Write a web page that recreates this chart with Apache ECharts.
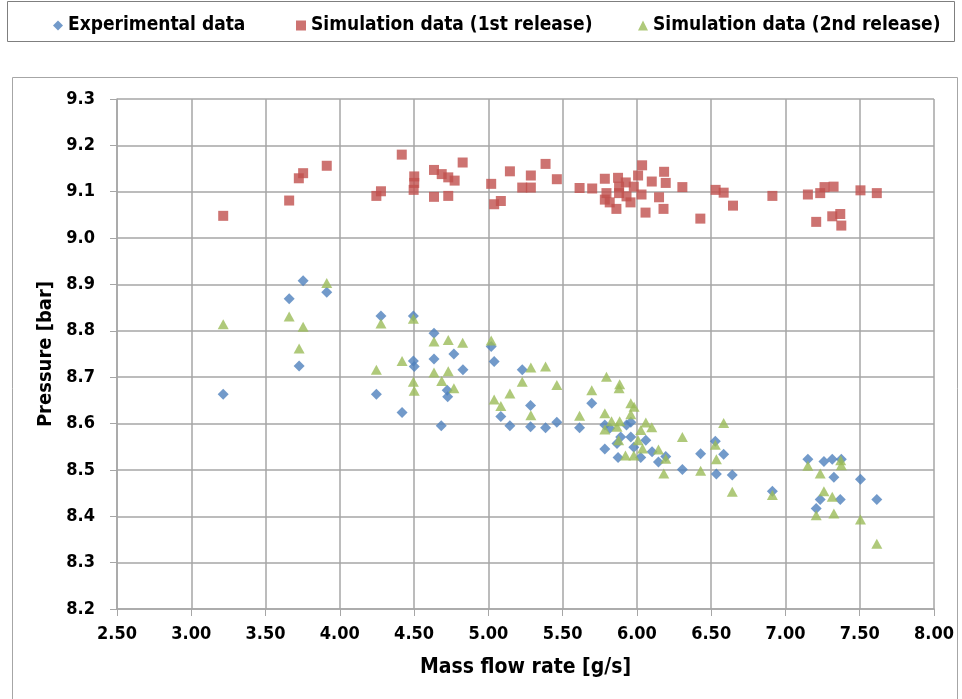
<!DOCTYPE html>
<html lang="en">
<head>
    <meta charset="UTF-8">
    <title>Pressure vs mass flow rate</title>
    <script src="https://cdn.jsdelivr.net/npm/echarts@6/dist/echarts.min.js"></script>
    <style>
        html, body { margin: 0; padding: 0; background: #fff; }
        #main { width: 962px; height: 699px; }
    </style>
</head>
<body>
    <div id="main"></div>
    <script>
        // values
        var expX = [3.215, 3.659, 3.726, 3.753, 3.912, 4.246, 4.277, 4.419, 4.495, 4.495, 4.501, 4.634, 4.634, 4.683, 4.723, 4.726, 4.768, 4.829,
            5.019, 5.039, 5.084, 5.145, 5.228, 5.284, 5.284, 5.385, 5.461, 5.614, 5.696, 5.784, 5.784, 5.817, 5.866, 5.873, 5.891, 5.930, 5.959, 5.959,
            5.979, 6.026, 6.060, 6.102, 6.145, 6.194, 6.306, 6.429, 6.528, 6.535, 6.584, 6.642, 6.912, 7.151, 7.207, 7.234, 7.259, 7.315, 7.326,
            7.369, 7.376, 7.505, 7.615];
        var expY = [8.663, 8.869, 8.724, 8.908, 8.883, 8.663, 8.832, 8.624, 8.832, 8.735, 8.723, 8.795, 8.739, 8.595, 8.672, 8.658, 8.750, 8.716,
            8.766, 8.734, 8.615, 8.595, 8.716, 8.639, 8.593, 8.591, 8.603, 8.591, 8.644, 8.597, 8.545, 8.590, 8.557, 8.527, 8.571, 8.597, 8.603, 8.571,
            8.549, 8.527, 8.564, 8.539, 8.517, 8.529, 8.501, 8.535, 8.562, 8.491, 8.534, 8.489, 8.454, 8.523, 8.417, 8.436, 8.518, 8.523, 8.484,
            8.436, 8.523, 8.480, 8.436];

        var sim1X = [3.215, 3.659, 3.724, 3.753, 3.912, 4.246, 4.277, 4.417, 4.501, 4.501, 4.497, 4.634, 4.686, 4.730, 4.773, 4.827, 4.634, 4.730,
            5.019, 5.039, 5.084, 5.145, 5.228, 5.286, 5.286, 5.385, 5.461, 5.614, 5.699, 5.784, 5.795, 5.784, 5.817, 5.862, 5.873, 5.880, 5.880,
            5.925, 5.930, 5.957, 5.979, 6.008, 6.031, 6.035, 6.058, 6.100, 6.149, 6.179, 6.183, 6.194, 6.306, 6.427, 6.530, 6.584, 6.647, 6.912,
            7.151, 7.207, 7.234, 7.263, 7.324, 7.315, 7.369, 7.376, 7.505, 7.615];
        var sim1Y = [9.048, 9.081, 9.129, 9.140, 9.156, 9.091, 9.101, 9.180, 9.133, 9.119, 9.104, 9.147, 9.138, 9.131, 9.124, 9.163, 9.089, 9.091,
            9.117, 9.073, 9.080, 9.144, 9.109, 9.135, 9.109, 9.160, 9.127, 9.108, 9.107, 9.128, 9.097, 9.083, 9.077, 9.063, 9.130, 9.111, 9.097,
            9.120, 9.090, 9.077, 9.111, 9.135, 9.094, 9.157, 9.055, 9.122, 9.088, 9.063, 9.143, 9.119, 9.110, 9.042, 9.104, 9.098, 9.070, 9.091,
            9.094, 9.035, 9.097, 9.110, 9.111, 9.047, 9.052, 9.027, 9.103, 9.097];

        var sim2X = [3.215, 3.659, 3.726, 3.753, 3.912, 4.246, 4.277, 4.419, 4.495, 4.495, 4.501, 4.634, 4.634, 4.686, 4.730, 4.730, 4.768, 4.827,
            5.019, 5.039, 5.084, 5.145, 5.228, 5.286, 5.286, 5.385, 5.461, 5.614, 5.696, 5.784, 5.784, 5.795, 5.829, 5.866, 5.877, 5.880, 5.884,
            5.884, 5.923, 5.959, 5.981, 5.959, 5.979, 6.008, 6.026, 6.038, 6.060, 6.100, 6.145, 6.181, 6.194, 6.306, 6.429, 6.528, 6.535, 6.584,
            6.642, 6.912, 7.151, 7.207, 7.234, 7.259, 7.315, 7.326, 7.372, 7.376, 7.505, 7.615];
        var sim2Y = [8.814, 8.831, 8.762, 8.809, 8.903, 8.716, 8.816, 8.735, 8.826, 8.690, 8.671, 8.777, 8.710, 8.692, 8.780, 8.713, 8.676, 8.774,
            8.779, 8.652, 8.638, 8.665, 8.690, 8.721, 8.618, 8.723, 8.683, 8.617, 8.672, 8.622, 8.587, 8.701, 8.605, 8.593, 8.564, 8.676, 8.685,
            8.605, 8.531, 8.644, 8.636, 8.620, 8.531, 8.564, 8.586, 8.546, 8.602, 8.592, 8.544, 8.492, 8.524, 8.571, 8.498, 8.554, 8.523, 8.601,
            8.453, 8.446, 8.509, 8.402, 8.492, 8.454, 8.442, 8.406, 8.521, 8.510, 8.393, 8.341];

        var seriesNames = ['Experimental data', 'Simulation data (1st release)', 'Simulation data (2nd release)'];

        function pairs(xs, ys) {
            return xs.map(function (x, i) { return [x, ys[i]]; });
        }

        var font = "'DejaVu Sans Condensed', 'Liberation Sans', sans-serif";
        var gridColor = '#a6a6a6';

        var myChart = echarts.init(document.getElementById('main'));

        function legendAt(name, left) {
            return {
                data: [name],
                left: left,
                top: 16,
                padding: 0,
                itemWidth: 10,
                itemHeight: 10,
                itemGap: 0,
                selectedMode: false,
                textStyle: { fontFamily: font, fontWeight: 'bold', fontSize: 19, color: '#000' }
            };
        }

        var option = {
            backgroundColor: '#fff',
            animation: false,
            color: ['#4f81bd', '#c0504d', '#9bbb59'],
            graphic: [
                // legend frame
                { type: 'rect', shape: { x: 7.5, y: 1.5, width: 947, height: 40 },
                  style: { fill: 'none', stroke: '#7f7f7f', lineWidth: 1 } },
                // chart frame
                { type: 'rect', shape: { x: 12.5, y: 77.5, width: 945, height: 630 },
                  style: { fill: 'none', stroke: '#a6a6a6', lineWidth: 1 } }
            ],
            legend: [
                legendAt(seriesNames[0], 53),
                legendAt(seriesNames[1], 296),
                legendAt(seriesNames[2], 638)
            ],
            grid: { left: 117, right: 28, top: 99, bottom: 90 },
            xAxis: {
                type: 'value',
                min: 2.5,
                max: 8,
                interval: 0.5,
                name: 'Mass flow rate [g/s]',
                nameLocation: 'middle',
                nameGap: 48,
                nameTextStyle: { fontFamily: font, fontWeight: 'bold', fontSize: 21, color: '#000' },
                axisLine: { lineStyle: { color: gridColor, width: 1.5 } },
                axisTick: { show: true, length: 7, lineStyle: { color: gridColor } },
                splitLine: { show: true, lineStyle: { color: gridColor, width: 1.5 } },
                axisLabel: {
                    margin: 16,
                    fontFamily: font, fontWeight: 'bold', fontSize: 18, color: '#000',
                    formatter: function (v) { return v.toFixed(2); }
                }
            },
            yAxis: {
                type: 'value',
                min: 8.2,
                max: 9.3,
                interval: 0.1,
                name: 'Pressure [bar]',
                nameLocation: 'middle',
                nameGap: 61,
                nameTextStyle: { fontFamily: font, fontWeight: 'bold', fontSize: 20, color: '#000' },
                axisLine: { show: true, lineStyle: { color: gridColor, width: 1.5 } },
                axisTick: { show: true, length: 7, lineStyle: { color: gridColor } },
                splitLine: { show: true, lineStyle: { color: gridColor, width: 1.5 } },
                axisLabel: {
                    margin: 22,
                    fontFamily: font, fontWeight: 'bold', fontSize: 18, color: '#000',
                    formatter: function (v) { return v.toFixed(1); }
                }
            },
            series: [
                {
                    name: seriesNames[0],
                    type: 'scatter',
                    symbol: 'diamond',
                    symbolSize: [11, 11],
                    data: pairs(expX, expY)
                },
                {
                    name: seriesNames[1],
                    type: 'scatter',
                    symbol: 'rect',
                    symbolSize: 10,
                    data: pairs(sim1X, sim1Y)
                },
                {
                    name: seriesNames[2],
                    type: 'scatter',
                    symbol: 'triangle',
                    symbolSize: [11, 10],
                    data: pairs(sim2X, sim2Y)
                }
            ]
        };

        myChart.setOption(option);
    </script>
</body>
</html>
